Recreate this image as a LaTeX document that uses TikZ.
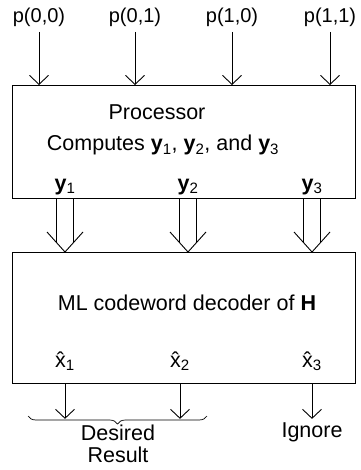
\documentclass[tikz,border=0pt]{standalone}
\usepackage{fontspec}
\setmainfont{Liberation Sans}
\usetikzlibrary{positioning,calc,arrows.meta,decorations.pathreplacing}

\begin{document}
\begin{tikzpicture}[x=1pt,y=-1pt,line width=0.9pt,
	>={Straight Barb[length=9pt,width=19pt]},
	txt/.style={font=\fontsize{21.5}{21.5}\selectfont,inner sep=0pt,anchor=base},
	lab/.style={txt,font=\fontsize{20}{20}\selectfont},
	block/.style={draw,minimum width=343pt,anchor=north west,inner sep=0pt},
	fatarrow/.pic={
		\draw (-8.5,-54) -- (-8.5,-9.4) (8.5,-54) -- (8.5,-9.4);
		\draw (-18,-20) -- (0,0) -- (18,-20);
	}]

	\useasboundingbox (0,0) rectangle (360,470);

	% the two blocks
	\node[block,minimum height=113pt] (proc) at (12,85) {};
	\node[block,minimum height=131pt] (dec) at (12,252) {};

	% probabilities in
	\foreach \lab/\x [count=\i] in {{p(0,0)}/39,{p(0,1)}/135,{p(1,0)}/232,{p(1,1)}/330}
		\node[lab] (p\i) at (\x,23) {\lab};
	\foreach \i in {1,...,4}
		\draw[->] ([yshift=-9pt]p\i.base) -- (p\i.base |- proc.north);

	\node[txt] (title) at (157,120) {Processor};
	\node[txt] (comp) at (163,151) {Computes \textbf{y}\textsubscript{1}, \textbf{y}\textsubscript{2}, and \textbf{y}\textsubscript{3}};

	\node[txt] (y1) at (65,190) {\textbf{y}\textsubscript{1}};
	\node[txt] (y2) at (188,190) {\textbf{y}\textsubscript{2}};
	\node[txt] (y3) at (312,190) {\textbf{y}\textsubscript{3}};

	% y's handed down to the decoder
	\foreach \i in {1,2,3}
		\pic at (y\i.base |- dec.north) {fatarrow};

	\node[txt] (ml) at (187,310) {ML codeword decoder of \textbf{H}};

	\node[txt] (x1) at (65,367) {\^{x}\textsubscript{1}};
	\node[txt] (x2) at (180,367) {\^{x}\textsubscript{2}};
	\node[txt] (x3) at (312,367) {\^{x}\textsubscript{3}};

	\draw[->] (x1.base |- dec.south) -- ++(0,35);
	\draw[->] (x2.base |- dec.south) -- ++(0,35);
	\draw[->] (x3.base |- dec.south) -- ++(0,35);

	% outputs
	\coordinate (bl) at (28,416);
	\coordinate (br) at (207,416);
	\draw[line width=0.7pt,decorate,decoration={brace,mirror,amplitude=8pt}] (bl) -- (br);
	\node[txt] (des) at (118,440) {Desired};
	\node[txt] (res) at (118,462) {Result};
	\node[txt] (ign) at (312,437) {Ignore};

\end{tikzpicture}
\end{document}
